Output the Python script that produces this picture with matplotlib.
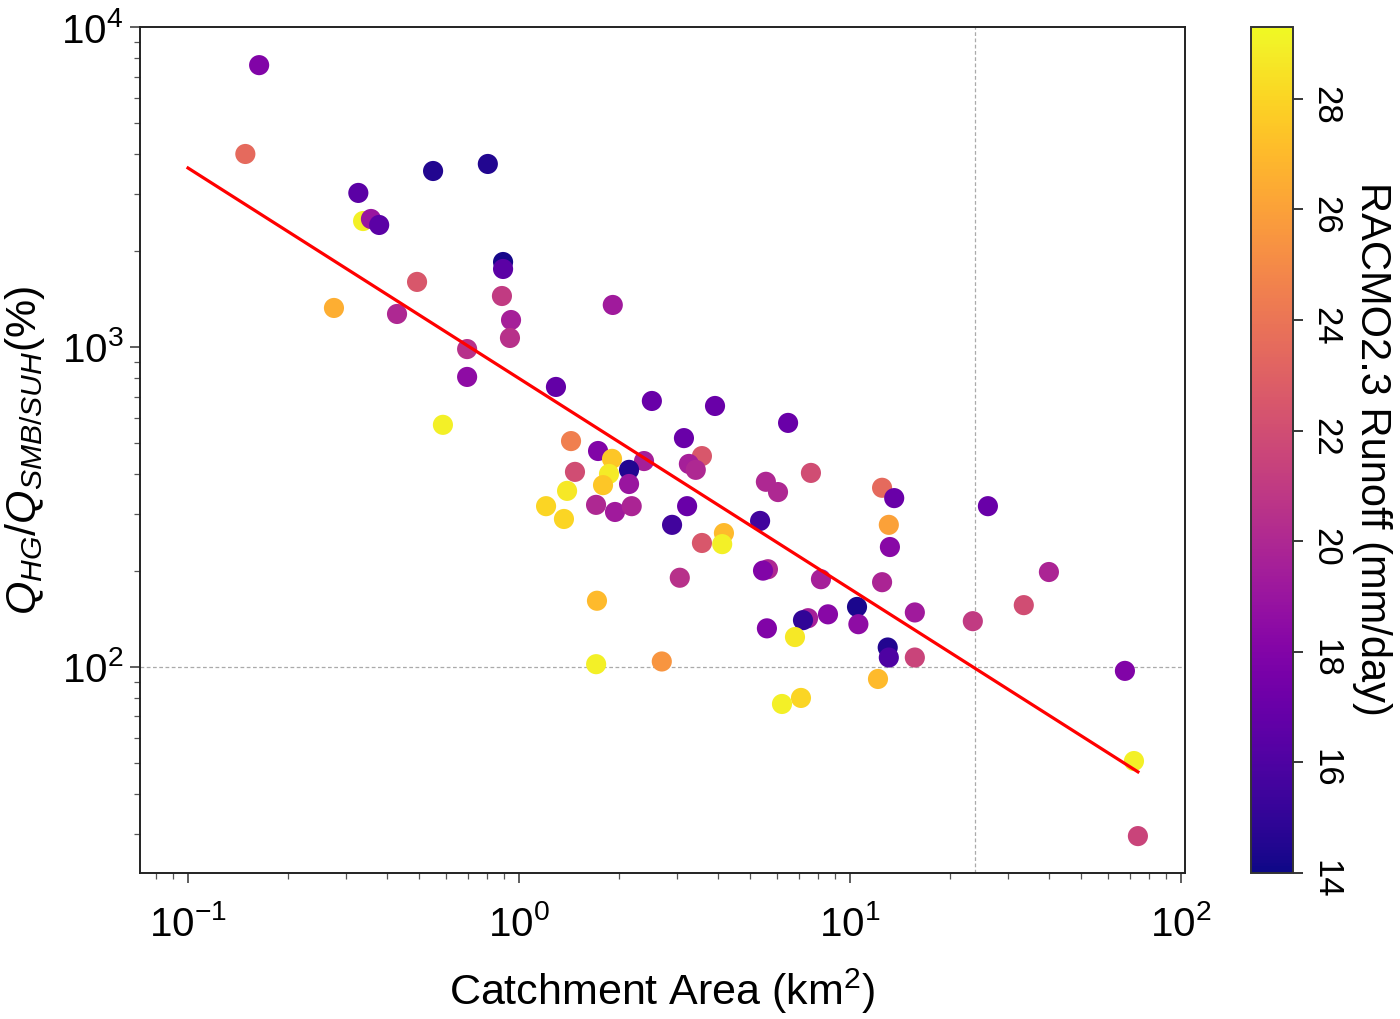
import matplotlib
matplotlib.use('Agg')
import matplotlib.pyplot as plt

plt.rcParams['font.family'] = ['Liberation Sans', 'DejaVu Sans']
plt.rcParams['mathtext.fontset'] = 'custom'
plt.rcParams['mathtext.rm'] = 'Liberation Sans'
plt.rcParams['mathtext.it'] = 'Liberation Sans:italic'
plt.rcParams['mathtext.bf'] = 'Liberation Sans:bold'

# catchment area (km2), discharge ratio (%), RACMO2.3 runoff (mm/day)
area = [0.164, 0.149, 0.327, 0.338, 0.357, 0.378, 0.550, 0.805, 0.895, 0.895,
        0.888, 0.946, 0.939, 0.492, 0.276, 0.428, 0.697, 0.697, 1.293, 0.589,
        2.52, 3.91, 3.15, 1.436, 1.733, 1.91, 2.386, 3.57, 3.26, 3.42,
        2.15, 1.87, 1.476, 1.794, 2.15, 1.397, 1.207, 1.709, 1.95, 2.19,
        3.22, 1.367, 2.90, 3.57, 3.06, 1.72, 1.71, 2.70, 6.50, 7.62,
        5.57, 6.06, 12.5, 13.6, 26.1, 5.35, 4.16, 4.11, 13.1, 13.2,
        5.65, 5.46, 8.17, 12.5, 10.5, 15.7, 33.5, 23.5, 8.58, 7.47,
        7.21, 10.6, 5.61, 6.82, 13.0, 13.1, 15.7, 12.15, 7.11, 6.23,
        39.9, 67.7, 72.1, 74.1, 1.92]
ratio = [7600, 4010, 3030, 2475, 2512, 2406, 3548, 3732, 1843, 1753,
         1443, 1214, 1067, 1597, 1324, 1268, 985, 806, 750, 571,
         678, 654, 519, 508, 473, 447, 440, 456, 431, 413,
         413, 401, 407, 370, 373, 355, 318, 321, 305, 318,
         318, 290, 278, 244, 190, 161, 102, 104, 579, 404,
         379, 352, 363, 337, 318, 286, 262, 242, 278, 237,
         202, 200, 188, 184, 154, 148, 156, 139, 146, 142,
         140, 136, 132, 124, 115, 107, 107, 91.7, 80, 76.6,
         198, 97.2, 50.8, 29.6, 1353]
runoff = [18.0, 23.5, 16.5, 29.0, 19.0, 16.5, 14.5, 14.5, 14.2, 16.5,
          21.0, 19.5, 20.5, 22.5, 26.5, 20.0, 20.5, 18.5, 16.8, 29.0,
          17.0, 17.0, 17.0, 24.5, 18.0, 27.5, 19.5, 22.5, 19.5, 20.0,
          14.5, 28.8, 22.0, 27.5, 19.0, 28.7, 28.0, 20.0, 19.3, 19.8,
          17.0, 28.0, 15.5, 22.5, 20.5, 27.0, 29.0, 25.5, 17.0, 22.0,
          20.0, 20.0, 23.5, 17.0, 17.0, 15.5, 27.0, 29.0, 26.0, 18.3,
          20.0, 18.0, 19.5, 19.8, 14.3, 19.3, 22.0, 21.0, 18.3, 19.5,
          15.0, 18.5, 18.0, 28.7, 14.5, 16.0, 21.5, 27.0, 28.0, 29.0,
          19.8, 18.0, 29.0, 21.5, 19.3]

# power-law fit end points
fit_area = [0.1, 74.1]
fit_ratio = [3625, 47]

# reference lines
ref_ratio = 100
ref_area = 23.9

fig = plt.figure(figsize=(14, 10.19), dpi=100)
ax = fig.add_axes([0.1, 0.1433, 0.7464, 0.8302])
cax = fig.add_axes([0.8936, 0.1433, 0.03, 0.8302])

sc = ax.scatter(area, ratio, c=runoff, cmap='plasma', vmin=14, vmax=29.3,
                s=210, linewidths=0, zorder=3)
ax.plot(fit_area, fit_ratio, color='red', lw=2.3, zorder=4)
ax.axhline(ref_ratio, color='#aaaaaa', ls='--', lw=0.9, dashes=(3, 2), zorder=1)
ax.axvline(ref_area, color='#aaaaaa', ls='--', lw=0.9, dashes=(3, 2), zorder=1)

ax.set_xscale('log')
ax.set_yscale('log')
ax.set_xlim(0.0716, 102.8)
ax.set_ylim(22.7, 1e4)

ax.tick_params(which='major', labelsize=29, length=7, width=1.1, color='#333333')
ax.tick_params(axis='x', which='major', pad=16)
ax.tick_params(axis='y', which='major', pad=5)
ax.tick_params(which='minor', length=4, width=0.9, color='#555555')
ax.set_xlabel('Catchment Area (km$^2$)', fontsize=31, labelpad=16)
ax.set_ylabel('$Q_{HG}/Q_{SMB/SUH}$(%)', fontsize=31, labelpad=10)
for sp in ax.spines.values():
    sp.set_linewidth(1.4)
    sp.set_color('#222222')

cb = fig.colorbar(sc, cax=cax)
cb.set_ticks(range(14, 29, 2))
cb.ax.tick_params(labelsize=25, labelrotation=270, length=7, width=1.1, pad=5)
cb.outline.set_linewidth(1.4)
cb.outline.set_edgecolor('#333333')
fig.text(1372 / 1400, 1 - 449 / 1019, 'RACMO2.3 Runoff (mm/day)', rotation=270,
         fontsize=30, ha='center', va='center')

fig.savefig('out.png', dpi=100)
